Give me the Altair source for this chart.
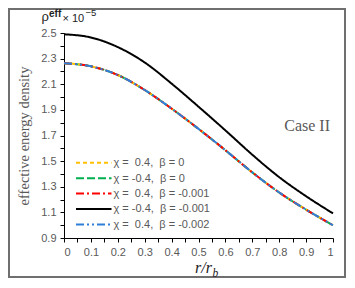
import altair as alt
import pandas as pd

r = [0.0, 0.1, 0.2, 0.3, 0.4, 0.5, 0.6, 0.7, 0.8, 0.9, 1.0]
rho_coloured = [2.265, 2.24, 2.172, 2.055, 1.91, 1.752, 1.585, 1.412, 1.255, 1.121, 1.0]
rho_black = [2.49, 2.465, 2.39, 2.27, 2.105, 1.925, 1.74, 1.55, 1.375, 1.226, 1.092]

NB = "\u00a0"
labels = [
    f"χ ={NB}{NB}0.4,{NB}{NB}β = 0",
    f"χ = -0.4,{NB}{NB}β = 0",
    f"χ ={NB}{NB}0.4,{NB}{NB}β = -0.001",
    f"χ = -0.4,{NB}{NB}β = -0.001",
    f"χ ={NB}{NB}0.4,{NB}{NB}β = -0.002",
]
colors = ["#FFC000", "#00B050", "#FF0000", "#000000", "#2F7ED8"]
dashes = [[4, 3], [8, 3], [8, 3, 2, 3], [1, 0], [8, 3, 2, 3, 2, 3]]

series_values = {
    labels[1]: rho_coloured,
    labels[0]: rho_coloured,
    labels[2]: rho_coloured,
    labels[4]: rho_coloured,
    labels[3]: rho_black,
}
order = [labels[1], labels[0], labels[2], labels[4], labels[3]]
rows = []
for k, name in enumerate(order):
    for xv, yv in zip(r, series_values[name]):
        rows.append({"r": xv, "rho": yv, "series": name, "ord": k})
df = pd.DataFrame(rows)
legend_df = pd.DataFrame({"series": labels})

x_ticks = [round(i * 0.05, 2) for i in range(21)]
y_ticks = [round(0.9 + i * 0.1, 1) for i in range(17)]

color_enc = alt.Color("series:N", scale=alt.Scale(domain=labels, range=colors), legend=None)
dash_enc = alt.StrokeDash("series:N", scale=alt.Scale(domain=labels, range=dashes), legend=None)

lines = alt.Chart(df).mark_line(strokeWidth=2, interpolate="monotone").encode(
    x=alt.X("r:Q", scale=alt.Scale(domain=[0, 1], nice=False),
            axis=alt.Axis(values=x_ticks, format=".1~f",
                          labelExpr="round(datum.value*20) % 2 == 0 ? datum.label : ''",
                          title=None, labelOverlap=False)),
    y=alt.Y("rho:Q", scale=alt.Scale(domain=[0.9, 2.5], nice=False, zero=False),
            axis=alt.Axis(values=y_ticks, format=".1f",
                          labelExpr="round(datum.value*10) % 2 == 1 ? datum.label : ''",
                          title="effective energy density", labelOverlap=False,
                          titleFont="Liberation Serif", titleFontSize=14.5,
                          titleColor="#595959", titleFontWeight="normal",
                          titlePadding=9)),
    color=color_enc,
    strokeDash=dash_enc,
    order=alt.Order("ord:Q"),
)

leg_y = alt.Y("series:N", scale=alt.Scale(type="point", domain=labels,
                                          range=[129.7, 191.4], padding=0), axis=None)
legend_lines = alt.Chart(legend_df).mark_rule(strokeWidth=2).encode(
    x=alt.value(12), x2=alt.value(47.5), y=leg_y, color=color_enc, strokeDash=dash_enc,
)
legend_text = alt.Chart(legend_df).mark_text(
    align="left", baseline="middle", font="Liberation Sans", fontSize=11,
    color="#595959", dy=0.5,
).encode(x=alt.value(49.5), y=leg_y, text="series:N")

one = pd.DataFrame({"a": [0]})
border = alt.Chart(one).mark_rect(fill=None, stroke="#6f6f6f", strokeWidth=2).encode(
    x=alt.value(-55), x2=alt.value(281), y=alt.value(-24), y2=alt.value(244)
)

def txt(s, x, y, size, font="Liberation Sans", color="#222222", weight="normal",
        style="normal", align="left"):
    return alt.Chart(one).mark_text(text=s, align=align, baseline="alphabetic",
                                    font=font, fontSize=size, color=color,
                                    fontWeight=weight, fontStyle=style).encode(
        x=alt.value(x), y=alt.value(y))

annots = [
    txt("ρ", -22.5, -12, 13),
    txt("eff", -15, -16.5, 10, weight="bold"),
    txt("× 10", -1.5, -11.5, 11),
    txt("−5", 21.5, -17, 9.5),
    txt("Case II", 266, 98, 16, font="Liberation Serif", color="#595959", align="right"),
    txt("r/r", 148, 240, 16, font="Liberation Serif", color="#222222", style="italic", align="right"),
    txt("b", 148.5, 244, 11.5, font="Liberation Serif", color="#222222", style="italic"),
]

chart = alt.layer(lines, legend_lines, legend_text, border, *annots).resolve_scale(
    y="independent"
).properties(
    width=269, height=205,
    autosize=alt.AutoSizeParams(type="none"),
    padding={"left": 56, "top": 25, "right": 14, "bottom": 40},
).configure_view(stroke=None).configure_axis(
    grid=False, domainColor="#000000", tickColor="#000000", tickSize=4,
    labelFont="Liberation Sans", labelFontSize=11, labelColor="#595959",
    labelPadding=4, domainWidth=1, tickWidth=1,
)

chart.save("out.html", embed_options={"renderer": "svg", "actions": False})
